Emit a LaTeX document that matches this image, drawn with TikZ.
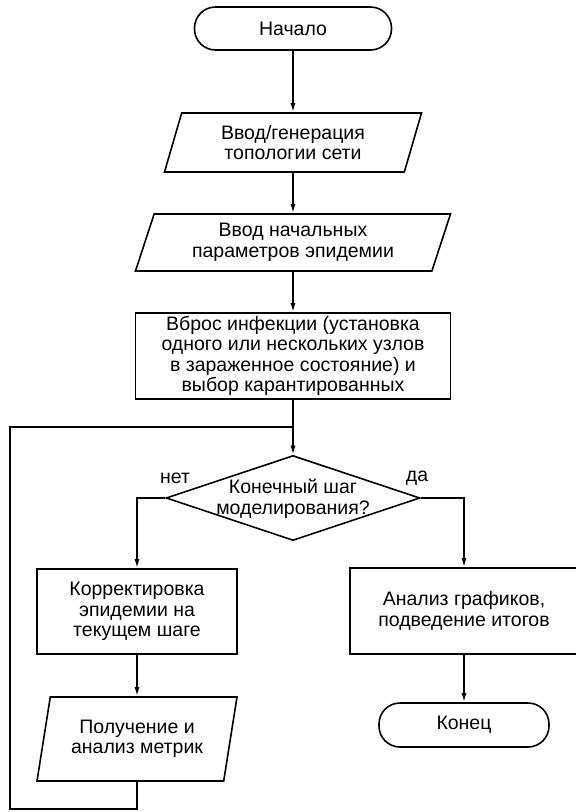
\documentclass[tikz,border=0pt]{standalone}
\usepackage{fontspec}
\setmainfont{Liberation Sans}
\usetikzlibrary{shapes.geometric,arrows.meta}

\begin{document}
\begin{tikzpicture}[x=1pt,y=-1pt,
        font=\fontsize{19.5}{20.5}\selectfont,line width=1.6pt,
        term/.style={draw,rectangle,rounded corners=21pt,minimum height=43pt},
        io/.style={draw,trapezium,trapezium left angle=65,trapezium right angle=115,
                   trapezium stretches body,align=center,inner sep=1pt},
        proc/.style={draw,rectangle,align=center,inner sep=1pt},
        decision/.style={draw,diamond,minimum width=254pt,minimum height=85pt,inner sep=0pt},
        arr/.style={-{Latex[length=9pt,width=5pt]}}]
    \useasboundingbox (0,0) rectangle (576,812);

    \node[term,minimum width=197pt] (start) at (293,28.5) {Начало};
    \node[io,minimum width=257pt,minimum height=59pt] (topo) at (293,142.5) {Ввод/генерация\\топологии сети};
    \node[io,minimum width=315pt,minimum height=57pt] (param) at (293,242.5) {Ввод начальных\\параметров эпидемии};
    \node[proc,minimum width=315pt,minimum height=86pt] (seed) at (293,356)
        {Вброс инфекции (установка\\одного или нескольких узлов\\в зараженное состояние) и\\выбор карантированных};
    \node[decision] (dec) at (293,498) {};
    \node[align=center,inner sep=0pt] (dectext) at (293,499) {Конечный шаг\\моделирования?};
    \node (no) at (175,478) {нет};
    \node (yes) at (417,478) {да};
    \node[proc,minimum width=200pt,minimum height=85pt] (corr) at (137,611.5)
        {Корректировка\\эпидемии на\\текущем шаге};
    \node[io,trapezium left angle=71.6,trapezium right angle=108.4,
          minimum width=200pt,minimum height=84pt] (metr) at (137,739) {Получение и\\анализ метрик};
    \node[proc,minimum width=228pt,minimum height=86pt] (res) at (464,611)
        {Анализ графиков,\\подведение итогов};
    \node[term,minimum width=170pt,minimum height=44pt] (finish) at (464,725) {Конец};

    \coordinate (lb) at (10,809);
    \coordinate (lt) at (10,427);
    \coordinate (jn) at (293,427);

    \draw[arr] (start) -- (topo);
    \draw[arr] (topo) -- (param);
    \draw[arr] (param) -- (seed);
    \draw[arr] (seed) -- (dec);
    \draw[arr] (dec.west) -| (corr);
    \draw[arr] (dec.east) -| (res);
    \draw[arr] (corr) -- (metr);
    \draw[arr] (res) -- (finish);
    % back to the step check
    \draw (metr.south) |- (lb) -- (lt) -- (jn);
\end{tikzpicture}
\end{document}
